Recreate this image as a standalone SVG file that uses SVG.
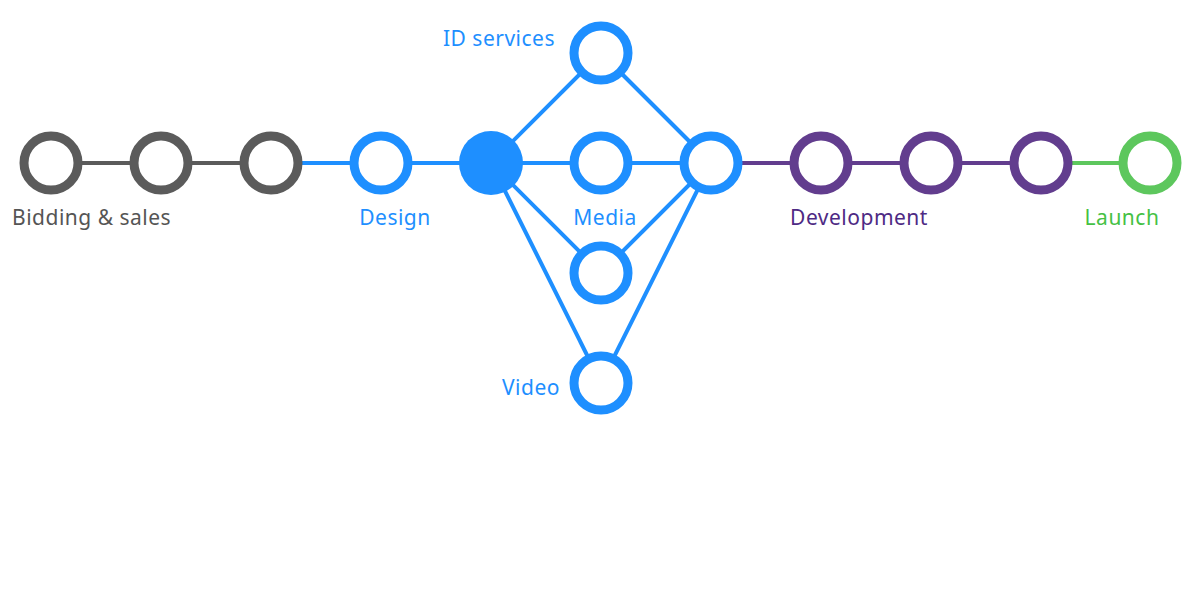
<svg xmlns="http://www.w3.org/2000/svg" width="1200" height="613" viewBox="0 0 1200 613">
<style>
.lbl{font-family:"Noto Sans","Open Sans",sans-serif;font-size:21px;letter-spacing:0.5px}
.ring{fill:#fff;stroke-width:9}
.gray{stroke:#5b5b5b}
.blue{stroke:#1e8fff}
.purple{stroke:#623d8e}
.green{stroke:#5dc75d}
.ln{stroke-width:4;fill:none}
</style>
<rect width="1200" height="613" fill="#fff"/>
<g id="connectors" class="ln">
<line class="gray" x1="51" y1="163" x2="271" y2="163"/>
<line class="blue" x1="271" y1="163" x2="711" y2="163"/>
<line class="purple" x1="711" y1="163" x2="1041" y2="163"/>
<line class="green" x1="1041" y1="163" x2="1150" y2="163"/>
<line class="blue" x1="491" y1="163" x2="601" y2="53"/>
<line class="blue" x1="601" y1="53" x2="711" y2="163"/>
<line class="blue" x1="491" y1="163" x2="601" y2="273"/>
<line class="blue" x1="601" y1="273" x2="711" y2="163"/>
<line class="blue" x1="491" y1="163" x2="601" y2="383"/>
<line class="blue" x1="601" y1="383" x2="711" y2="163"/>
</g>
<g id="bidding1"><circle class="ring gray" cx="51" cy="163" r="27"/></g>
<g id="bidding2"><circle class="ring gray" cx="161" cy="163" r="27"/></g>
<g id="bidding3"><circle class="ring gray" cx="271" cy="163" r="27"/></g>
<g id="design"><circle class="ring blue" cx="381" cy="163" r="27"/></g>
<g id="hub"><circle cx="491" cy="163" r="32" fill="#1e8fff"/></g>
<g id="id-services"><circle class="ring blue" cx="601" cy="53" r="27"/></g>
<g id="media"><circle class="ring blue" cx="601" cy="163" r="27"/></g>
<g id="media-lower"><circle class="ring blue" cx="601" cy="273" r="27"/></g>
<g id="video"><circle class="ring blue" cx="601" cy="383" r="27"/></g>
<g id="merge"><circle class="ring blue" cx="711" cy="163" r="27"/></g>
<g id="dev1"><circle class="ring purple" cx="821" cy="163" r="27"/></g>
<g id="dev2"><circle class="ring purple" cx="931" cy="163" r="27"/></g>
<g id="dev3"><circle class="ring purple" cx="1041" cy="163" r="27"/></g>
<g id="launch"><circle class="ring green" cx="1150" cy="163" r="27"/></g>
<g id="labels" class="lbl">
<text x="12" y="225" fill="#555555">Bidding &amp; sales</text>
<text x="395" y="225" text-anchor="middle" fill="#1e8fff">Design</text>
<text x="605" y="225" text-anchor="middle" fill="#1e8fff">Media</text>
<text x="859" y="225" text-anchor="middle" fill="#4e2a84">Development</text>
<text x="1122" y="225" text-anchor="middle" fill="#45c145">Launch</text>
<text x="555" y="46" text-anchor="end" fill="#1e8fff">ID services</text>
<text x="560" y="395" text-anchor="end" fill="#1e8fff">Video</text>
</g>
</svg>
